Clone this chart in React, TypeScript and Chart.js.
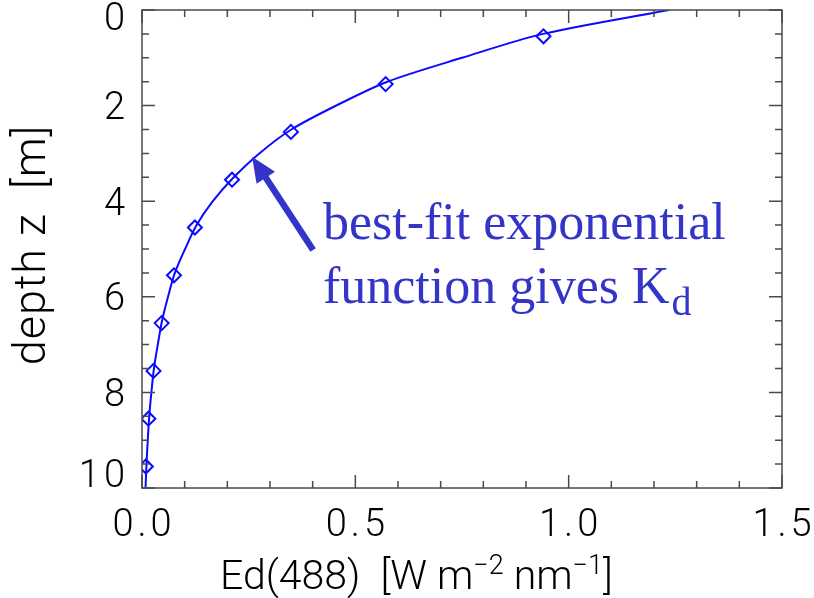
import { useEffect, useRef } from 'react';
import { Chart, registerables } from 'chart.js';

Chart.register(...registerables);

// Best-fit exponential curve (depth in m, Ed in W m-2 nm-1)
const fitDepth = [0, 0.5, 1, 1.5, 2, 2.5, 3, 3.5, 4, 4.5, 5, 5.5, 6, 6.5, 7, 7.5, 8, 8.5, 9, 9.5, 10];
const fitEd = [1.235, 0.94, 0.75, 0.575, 0.455, 0.35, 0.275, 0.215, 0.166, 0.128, 0.101, 0.077, 0.061, 0.047, 0.037, 0.028, 0.022, 0.017, 0.0135, 0.0105, 0.0083];

// Measured points (diamonds)
const obsDepth = [0.55, 1.55, 2.55, 3.55, 4.55, 5.55, 6.55, 7.55, 8.55, 9.55];
const obsEd = [0.941, 0.571, 0.349, 0.211, 0.124, 0.075, 0.046, 0.027, 0.015, 0.009];

// Axes
const xTickValues = [0, 0.5, 1.0, 1.5];
const xTickLabels = ['0.0', '0.5', '1.0', '1.5'];
const yTickValues = [0, 2, 4, 6, 8, 10];
const yTickLabels = ['0', '2', '4', '6', '8', '10'];
const xTitleParts: [string, boolean][] = [
  ['Ed(488)  [W m', false],
  ['\u22122', true],
  [' nm', false],
  ['\u22121', true],
  [']', false],
];
const yTitle = 'depth z  [m]';

// Annotation
const noteLines = ['best-fit exponential', 'function gives K'];
const noteSub = 'd';
const arrowTip = { x: 0.258, y: 3.07 };
const arrowTail = { x: 0.401, y: 5.02 };
const noteAnchor = { x: 0.424, y: 4.79 };

const AXIS_FONT = "'Roboto', 'DejaVu Sans', sans-serif";
const NOTE_FONT = "'Liberation Serif', 'DejaVu Serif', serif";
const NOTE_COLOR = '#3434c8';
const LINE_COLOR = '#0a0aff';

const idlAxes = {
  id: 'idlAxes',
  afterDatasetsDraw(chart: any) {
    const { ctx, chartArea: a, scales } = chart;
    const xs = scales.x;
    const ys = scales.y;
    ctx.save();

    // frame
    ctx.strokeStyle = '#4a4a4a';
    ctx.lineWidth = 1.5;
    ctx.strokeRect(a.left, a.top, a.right - a.left, a.bottom - a.top);

    const MAJ = 13;
    const MIN = 7;
    ctx.beginPath();
    const nx = Math.round((xs.max - xs.min) / 0.1);
    for (let i = 0; i <= nx; i++) {
      const v = xs.min + i * 0.1;
      const px = xs.getPixelForValue(v);
      const len = i % 5 === 0 ? MAJ : MIN;
      ctx.moveTo(px, a.bottom);
      ctx.lineTo(px, a.bottom - len);
      ctx.moveTo(px, a.top);
      ctx.lineTo(px, a.top + len);
    }
    const ny = Math.round((ys.max - ys.min) / 0.5);
    for (let i = 0; i <= ny; i++) {
      const v = ys.min + i * 0.5;
      const py = ys.getPixelForValue(v);
      const len = i % 4 === 0 ? MAJ : MIN;
      ctx.moveTo(a.left, py);
      ctx.lineTo(a.left + len, py);
      ctx.moveTo(a.right, py);
      ctx.lineTo(a.right - len, py);
    }
    ctx.stroke();

    // tick labels
    ctx.fillStyle = '#000';
    ctx.font = `300 38px ${AXIS_FONT}`;
    (ctx as any).letterSpacing = '4px';
    ctx.textBaseline = 'middle';
    ctx.textAlign = 'center';
    xTickValues.forEach((v, i) => {
      ctx.fillText(xTickLabels[i], xs.getPixelForValue(v) + 2, a.bottom + 38);
    });
    ctx.textAlign = 'right';
    yTickValues.forEach((v, i) => {
      let py = ys.getPixelForValue(v) + 4;
      py = Math.max(a.top + 10, Math.min(a.bottom - 11, py));
      ctx.fillText(yTickLabels[i], a.left - 13, py);
    });

    // x title with superscripts
    (ctx as any).letterSpacing = '0px';
    ctx.textAlign = 'left';
    ctx.textBaseline = 'alphabetic';
    let tx = a.left + 78;
    const tBase = a.bottom + 101;
    xTitleParts.forEach(([t, sup]) => {
      ctx.font = sup ? `300 27px ${AXIS_FONT}` : `300 41px ${AXIS_FONT}`;
      ctx.fillText(t, tx, sup ? tBase - 15 : tBase);
      tx += ctx.measureText(t).width;
    });

    // y title (rotated)
    (ctx as any).letterSpacing = '1px';
    ctx.save();
    ctx.translate(a.left - 97, (a.top + a.bottom) / 2 - 4);
    ctx.rotate(-Math.PI / 2);
    ctx.font = `300 45px ${AXIS_FONT}`;
    ctx.textAlign = 'center';
    ctx.fillText(yTitle, 0, 0);
    ctx.restore();

    // arrow
    const tipX = xs.getPixelForValue(arrowTip.x);
    const tipY = ys.getPixelForValue(arrowTip.y);
    const tailX = xs.getPixelForValue(arrowTail.x);
    const tailY = ys.getPixelForValue(arrowTail.y);
    const dx = tipX - tailX;
    const dy = tipY - tailY;
    const L = Math.hypot(dx, dy);
    const ux = dx / L;
    const uy = dy / L;
    const headLen = 25;
    const headHalf = 11;
    const bx = tipX - ux * headLen;
    const by = tipY - uy * headLen;
    ctx.strokeStyle = NOTE_COLOR;
    ctx.fillStyle = NOTE_COLOR;
    ctx.lineWidth = 6.5;
    ctx.lineCap = 'butt';
    ctx.beginPath();
    ctx.moveTo(tailX, tailY);
    ctx.lineTo(bx + ux * 2, by + uy * 2);
    ctx.stroke();
    ctx.beginPath();
    ctx.moveTo(tipX, tipY);
    ctx.lineTo(bx - uy * headHalf, by + ux * headHalf);
    ctx.lineTo(bx + uy * headHalf, by - ux * headHalf);
    ctx.closePath();
    ctx.fill();

    // note text
    (ctx as any).letterSpacing = '0px';
    const nx0 = xs.getPixelForValue(noteAnchor.x);
    const ny0 = ys.getPixelForValue(noteAnchor.y);
    ctx.font = `52px ${NOTE_FONT}`;
    ctx.textAlign = 'left';
    ctx.fillText(noteLines[0], nx0, ny0);
    ctx.fillText(noteLines[1], nx0, ny0 + 64);
    const w2 = ctx.measureText(noteLines[1]).width;
    ctx.font = `40px ${NOTE_FONT}`;
    ctx.fillText(noteSub, nx0 + w2 + 2, ny0 + 76);

    ctx.restore();
  },
};

export default function App() {
  const ref = useRef<HTMLCanvasElement | null>(null);
  useEffect(() => {
    if (!ref.current) return;
    const chart = new Chart(ref.current, {
      type: 'scatter',
      data: {
        datasets: [
          {
            label: 'fit',
            data: fitDepth.map((d, i) => ({ x: fitEd[i], y: d })),
            showLine: true,
            borderColor: LINE_COLOR,
            borderWidth: 2,
            pointRadius: 0,
            tension: 0.3,
            fill: false,
          },
          {
            label: 'obs',
            data: obsDepth.map((d, i) => ({ x: obsEd[i], y: d })),
            showLine: false,
            pointStyle: 'rectRot',
            pointRadius: 7,
            pointBorderWidth: 2,
            borderColor: LINE_COLOR,
            backgroundColor: 'rgba(0,0,0,0)',
          },
        ],
      },
      options: {
        animation: false,
        responsive: false,
        devicePixelRatio: 1,
        layout: { padding: { left: 142, right: 32, top: 10, bottom: 110 } },
        plugins: { legend: { display: false }, tooltip: { enabled: false } },
        scales: {
          x: { type: 'linear', min: 0, max: 1.5, display: false },
          y: { type: 'linear', min: 0, max: 10, reverse: true, display: false },
        },
      },
      plugins: [idlAxes],
    });
    return () => chart.destroy();
  }, []);
  return (
    <div style={{ position: 'fixed', left: 0, top: 0, width: 814, height: 598, background: '#fff' }}>
      <canvas ref={ref} width={814} height={598} style={{ display: 'block' }} />
    </div>
  );
}
